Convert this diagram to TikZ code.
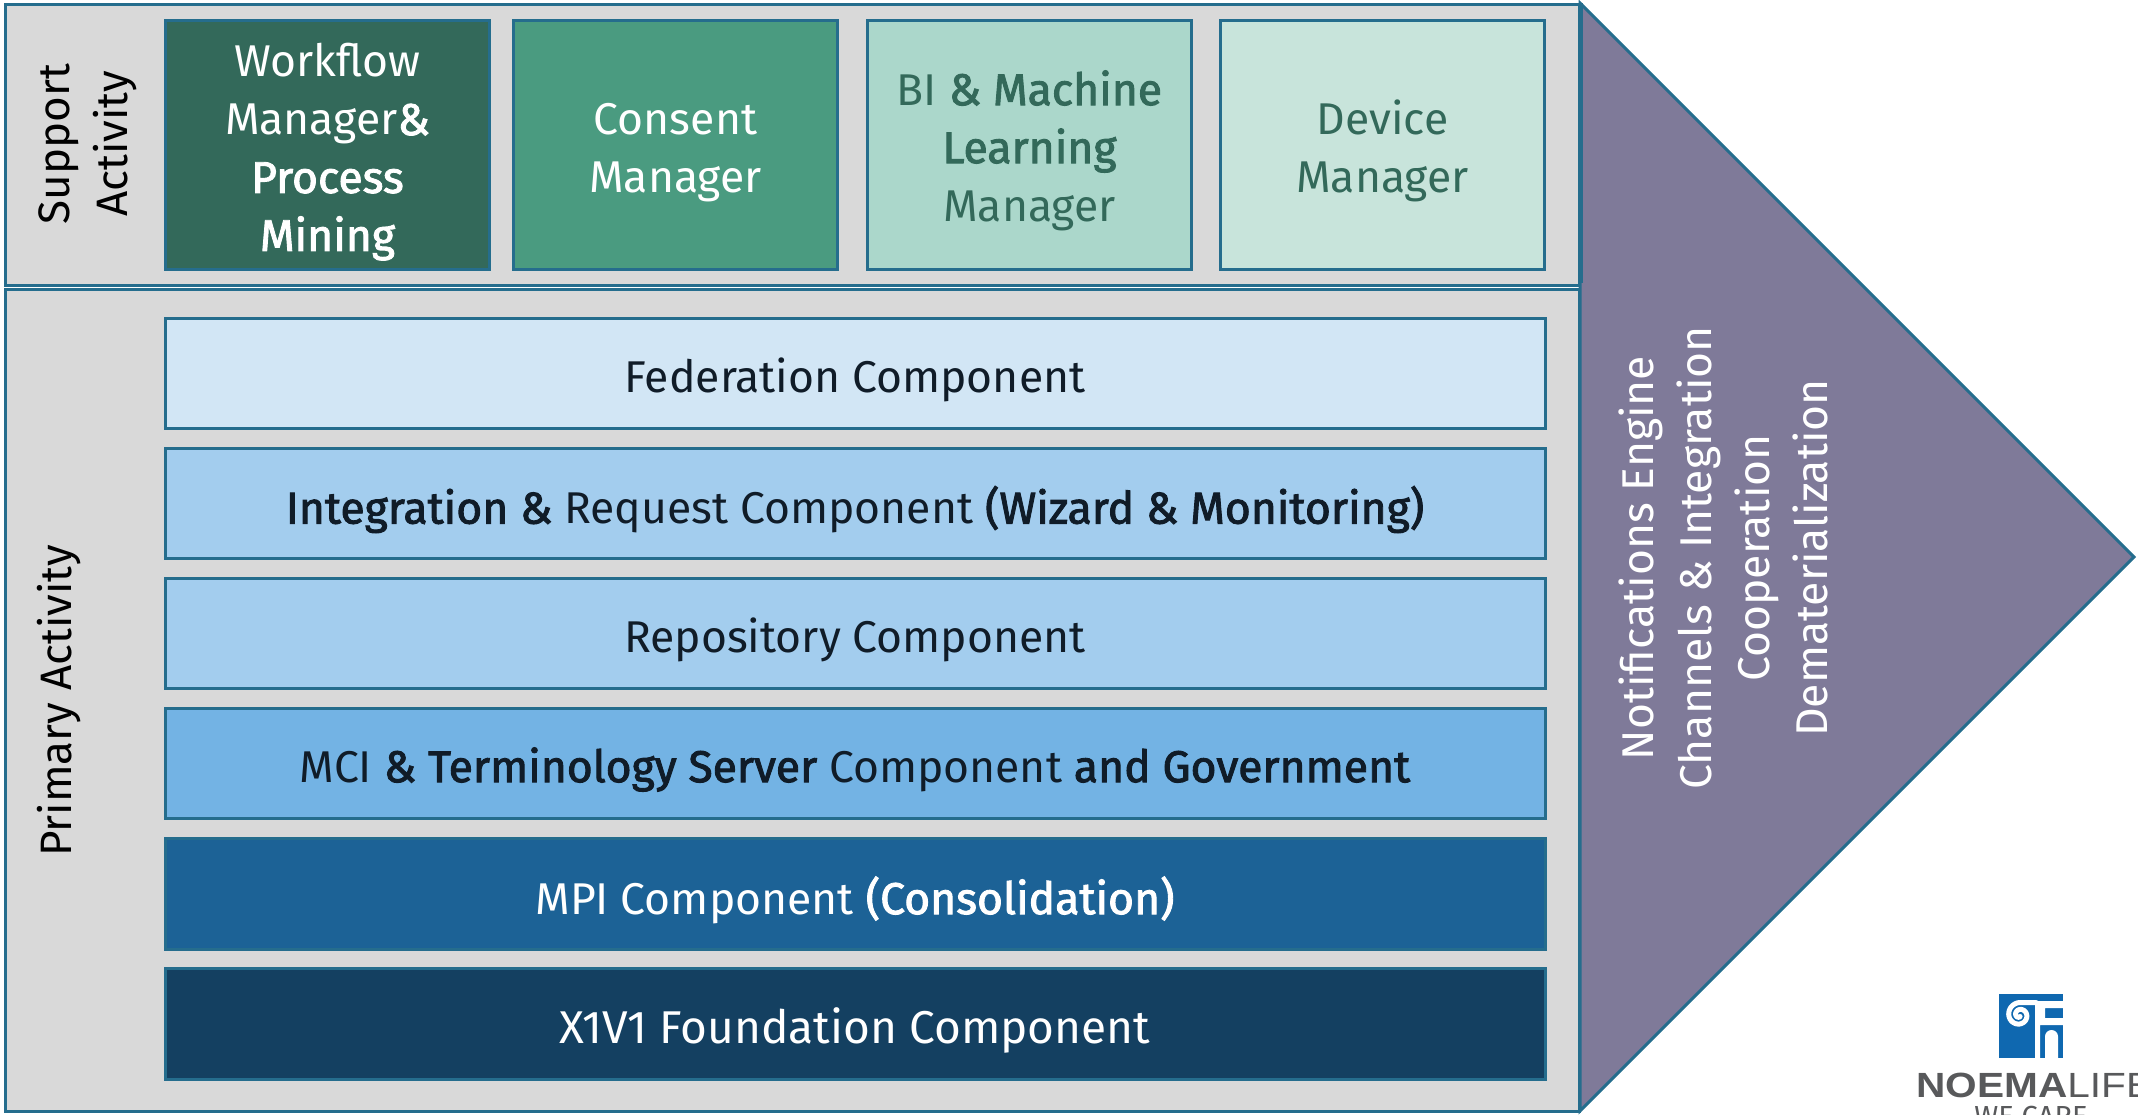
\documentclass[tikz,border=0pt]{standalone}
\usepackage{fontspec}
\setmainfont{Fira Sans}[BoldFont=Fira Sans,BoldFeatures={FakeBold=2}]
\newfontfamily\logofont{Liberation Sans}[FakeStretch=1.16]
\definecolor{edgeblue}{HTML}{256D8D}
\definecolor{panelgray}{HTML}{D9D9D9}
\definecolor{arrowviolet}{HTML}{7F7A99}
\definecolor{gA}{HTML}{33695A}
\definecolor{gB}{HTML}{4A9B80}
\definecolor{gC}{HTML}{ABD7CB}
\definecolor{gD}{HTML}{C8E4DB}
\definecolor{bA}{HTML}{D2E6F5}
\definecolor{bB}{HTML}{A3CDEE}
\definecolor{bC}{HTML}{73B3E4}
\definecolor{bD}{HTML}{1C6296}
\definecolor{bE}{HTML}{144061}
\definecolor{inkdark}{HTML}{101C28}
\definecolor{logoblue}{HTML}{0F68B0}
\definecolor{logogray}{HTML}{58595B}
\tikzset{
  panel/.style={draw=edgeblue,line width=3pt,fill=panelgray},
  cardbox/.style={draw=edgeblue,line width=3pt,inner sep=0pt,minimum width=324.5pt,minimum height=249pt},
  rowbox/.style={draw=edgeblue,line width=3pt,inner sep=0pt,minimum width=1380pt,minimum height=110pt},
  boxtext/.style={align=center,inner sep=0pt,yshift=-6pt,font=\fontsize{44.5}{58}\selectfont},
  sidelabel/.style={rotate=90,align=center,inner sep=0pt,text=black,font=\fontsize{44}{58}\selectfont},
}
\begin{document}
\begin{tikzpicture}[x=1pt,y=-1pt]
\useasboundingbox (0,0) rectangle (2138,1114);
\begin{scope}
\clip (0,0) rectangle (2138,1114);
% value-chain arrow
\draw[draw=edgeblue,line width=3pt,fill=arrowviolet,line join=miter] (1580,3) -- (2134,557) -- (1580,1111) -- cycle;
\draw[panel] (5,289) rectangle (1579,1111);
\draw[panel] (5,4) rectangle (1579,285);
\draw[edgeblue,line width=5pt] (1580,3) -- (1580,283);
% support cards
\node[cardbox,fill=gA] (wf) at (327.5,145) {};
\node[boxtext,text=white,yshift=-1pt] (wft) at (wf.center) {Workflow\\Manager\textbf{\&}\\\textbf{Process}\\\textbf{Mining}};
\node[cardbox,fill=gB] (cons) at (675.5,145) {};
\node[boxtext,text=white,yshift=-2pt] (const) at (cons.center) {Consent\\Manager};
\node[cardbox,fill=gC] (bi) at (1029.5,144.5) {};
\node[boxtext,text=gA] (bit) at (bi.center) {BI \textbf{\& Machine}\\\textbf{Learning}\\Manager};
\node[cardbox,fill=gD] (dev) at (1382.5,144.5) {};
\node[boxtext,text=gA] (devt) at (dev.center) {Device\\Manager};
% primary rows
\node[rowbox,fill=bA] (fed) at (855,373.5) {};
\node[boxtext,text=inkdark] (fedt) at (fed.center) {Federation Component};
\node[rowbox,fill=bB] (integ) at (855,503.5) {};
\node[boxtext,text=inkdark] (integt) at (integ.center) {\textbf{Integration \&} Request Component \textbf{(Wizard \& Monitoring)}};
\node[rowbox,fill=bB] (repo) at (855,633.5) {};
\node[boxtext,text=inkdark] (repot) at (repo.center) {Repository Component};
\node[rowbox,fill=bC] (mci) at (855,763.5) {};
\node[boxtext,text=inkdark] (mcit) at (mci.center) {MCI \textbf{\& Terminology Server} Component \textbf{and Government}};
\node[rowbox,fill=bD,minimum height=111pt] (mpi) at (855,894) {};
\node[boxtext,text=white] (mpit) at (mpi.center) {MPI Component \textbf{(Consolidation)}};
\node[rowbox,fill=bE,minimum height=111pt] (found) at (855,1024) {};
\node[boxtext,text=white,font=\fontsize{46}{58}\selectfont] (foundt) at (found.center) {X1V1 Foundation Component};
% side labels
\node[sidelabel] (sup) at (88,144) {Support\\Activity};
\node[sidelabel] (pri) at (59,701) {Primary Activity};
\node[sidelabel,text=white,font=\fontsize{44.5}{58}\selectfont] (chan) at (1723,558) {Notifications Engine\\Channels \& Integration\\Cooperation\\Dematerialization};
% logo
\fill[logoblue] (1999,994) rectangle (2063,1058);
\fill[white] (2035,1001) -- (2063,1001) -- (2063,1008) -- (2045,1008) -- (2045,1018) -- (2063,1018) -- (2063,1025) -- (2040,1025) -- (2040,1058) -- (2035,1058) -- cycle;
\fill[white] (2045,1058) -- (2045,1036.5) arc[start angle=180,end angle=0,radius=6.5pt] -- (2058,1058) -- cycle;
\draw[white,line width=5pt,line cap=round] (2036,1002.5) -- (2019.5,1002.5) plot[smooth,domain=90:650,samples=60] ({2019.5+(12.5-7*(\x-90)/360)*cos(\x)},{1015-(12.5-7*(\x-90)/360)*sin(\x)});
\node[anchor=base west,inner sep=0pt,text=logogray,font=\logofont\fontsize{35}{35}\selectfont] (lg) at (1916,1097) {\textbf{NOEMA}LIFE};
\node[anchor=base,inner sep=0pt,text=logogray,font=\fontsize{29}{29}\selectfont] (wc) at (2031,1126) {WE CARE};
\end{scope}
\end{tikzpicture}
\end{document}
